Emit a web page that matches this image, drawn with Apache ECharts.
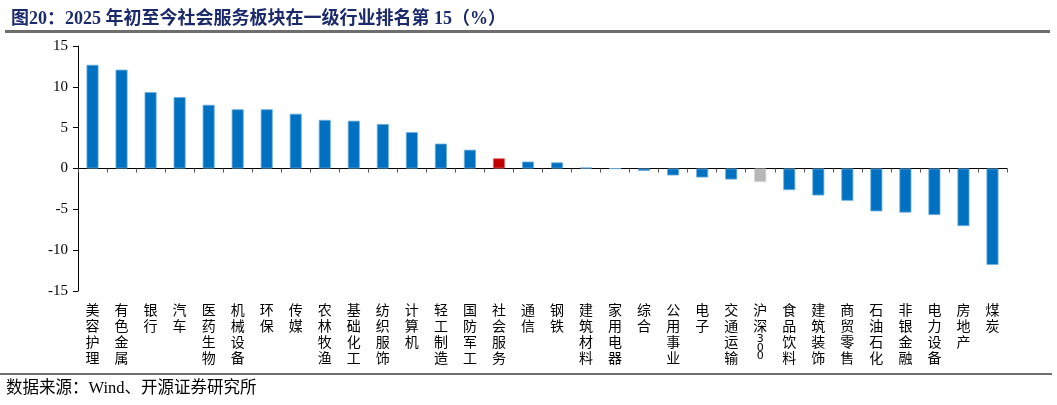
<!DOCTYPE html>
<html><head><meta charset="utf-8">
<script src="https://cdn.jsdelivr.net/npm/echarts@6/dist/echarts.min.js"></script>
<style>html,body{margin:0;padding:0;background:#fff}#c{width:1057px;height:405px}</style>
</head><body><div id="c"></div>
<script>
const categories = ['美容护理','有色金属','银行','汽车','医药生物','机械设备','环保','传媒','农林牧渔','基础化工','纺织服饰','计算机','轻工制造','国防军工','社会服务','通信','钢铁','建筑材料','家用电器','综合','公用事业','电子','交通运输','沪深300','食品饮料','建筑装饰','商贸零售','石油石化','非银金融','电力设备','房地产','煤炭'];
const values = [12.7,12.1,9.35,8.75,7.8,7.25,7.25,6.7,5.95,5.85,5.45,4.45,3.05,2.3,1.25,0.85,0.75,0.12,-0.02,-0.3,-0.85,-1.1,-1.35,-1.65,-2.65,-3.3,-3.95,-5.25,-5.4,-5.7,-7.05,-11.8];
const yTicks = [-15,-10,-5,0,5,10,15];

const serif = '"Liberation Serif","Times New Roman","Noto Sans CJK SC",serif';
const chart = echarts.init(document.getElementById('c'), null, {renderer:'canvas'});

function fmtLabel(name){
  let out = [];
  for (const ch of name) {
    if (/[0-9]/.test(ch)) out.push('{d|' + ch + '}');
    else out.push(ch);
  }
  return out.join('\n');
}

const data = values.map((v,i)=>{
  const name = categories[i];
  let color = '#0070C0', border = '#6FB0E0';
  if (name === '社会服务') { color = '#C00000'; border = '#E07070'; }
  if (name === '沪深300') { color = '#B7B7B7'; border = '#D0D0D0'; }
  return {value:v, itemStyle:{color:color, borderColor:border, borderWidth:0.8}};
});

chart.setOption({
  animation:false,
  backgroundColor:'#fff',
  title:{
    text:'图20：2025 年初至今社会服务板块在一级行业排名第 15（%）',
    left:6, top:5,
    textStyle:{fontFamily:serif, fontSize:18, fontWeight:'bold', color:'#1B2A6B'}
  },
  graphic:[
    {type:'rect', shape:{x:5,y:30,width:1045,height:3}, style:{fill:'#6E6E6E'}},
    {type:'rect', shape:{x:0,y:373,width:1052,height:2}, style:{fill:'#6E6E6E'}},
    {type:'text', left:6, top:380, style:{text:'数据来源：Wind、开源证券研究所', font:'16.5px ' + serif, fill:'#000'}}
  ],
  grid:{left:78, right:50, top:46, bottom:114, containLabel:false, outerBoundsMode:'none'},
  xAxis:{
    type:'category', data:categories,
    axisLine:{onZero:true, lineStyle:{color:'#000', width:1}},
    axisTick:{show:true, inside:false, length:4, lineStyle:{color:'#555'}},
    axisLabel:{
      interval:0, margin:12, color:'#000',
      fontFamily:serif, fontSize:14, lineHeight:16, verticalAlign:'top',
      formatter:fmtLabel,
      rich:{d:{fontFamily:'"DejaVu Sans",sans-serif', fontSize:11, lineHeight:8.5, color:'#000'}}
    }
  },
  yAxis:{
    type:'value', min:-15, max:15, interval:5,
    axisLine:{show:true, lineStyle:{color:'#000'}},
    axisTick:{show:true, length:5, lineStyle:{color:'#000'}},
    splitLine:{show:false},
    axisLabel:{margin:10, color:'#000', fontFamily:serif, fontSize:15,
      formatter:v=> yTicks.includes(v) ? String(v) : ''}
  },
  series:[{type:'bar', data:data, barWidth:12}]
});
</script></body></html>
